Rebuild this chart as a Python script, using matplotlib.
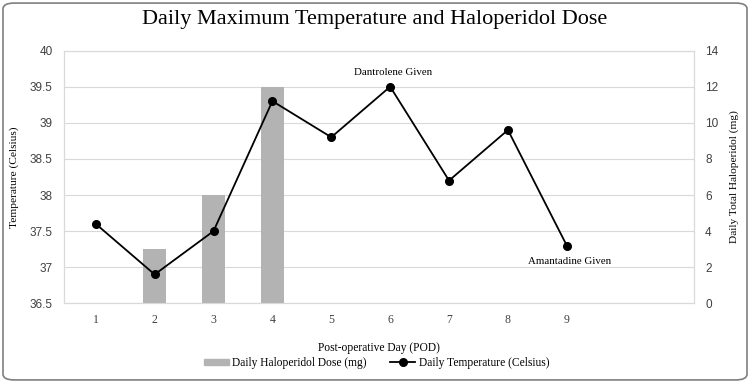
import matplotlib.pyplot as plt
from matplotlib.patches import FancyBboxPatch
from matplotlib.lines import Line2D
from matplotlib.patches import Patch

days = [1, 2, 3, 4, 5, 6, 7, 8, 9]
temps = [37.6, 36.9, 37.5, 39.3, 38.8, 39.5, 38.2, 38.9, 37.3]
dose_days = [2, 3, 4]
doses = [3, 6, 12]
left_ticks = [36.5, 37, 37.5, 38, 38.5, 39, 39.5, 40]
right_ticks = [0, 2, 4, 6, 8, 10, 12, 14]


def main():
    serif = ['Liberation Serif', 'DejaVu Serif']
    sans = ['Liberation Sans', 'DejaVu Sans']
    grid_c = '#d9d9d9'
    tick_c = '#404040'

    fig = plt.figure(figsize=(7.5, 3.83), dpi=100)
    fig.patches.append(FancyBboxPatch((0.004, 0.008), 0.992, 0.984,
                                      boxstyle='round,pad=0,rounding_size=0.015',
                                      transform=fig.transFigure, fill=False,
                                      edgecolor='#7f7f7f', linewidth=1.2))

    ax = fig.add_axes([0.0853, 0.208, 0.84, 0.66])
    ax2 = ax.twinx()
    ax.set_zorder(ax2.get_zorder() + 1)
    ax.patch.set_visible(False)

    # bars on the right axis
    ax2.bar(dose_days, doses, width=0.385, color='#b3b3b3', zorder=2)
    ax2.set_ylim(0, 14)
    ax2.set_yticks(right_ticks)
    ax2.set_yticklabels([str(t) for t in right_ticks], fontfamily=sans, fontsize=8.5, color=tick_c)
    ax2.set_ylabel('Daily Total Haloperidol (mg)', fontfamily=serif, fontsize=8.2, labelpad=8)

    ax.plot(days, temps, color='black', marker='o', markersize=5.5, linewidth=1.3, zorder=3)
    ax.set_ylim(36.5, 40)
    ax.set_xlim(0.46, 11.16)
    ax.set_yticks(left_ticks)
    ax.set_yticklabels([f'{t:g}' for t in left_ticks], fontfamily=sans, fontsize=8.5, color=tick_c)
    ax.set_xticks(days)
    ax.set_xticklabels([str(d) for d in days], fontfamily=serif, fontsize=8.5, color=tick_c)
    ax.set_ylabel('Temperature (Celsius)', fontfamily=serif, fontsize=8.2, labelpad=8)
    ax.set_xlabel('Post-operative Day (POD)', fontfamily=serif, fontsize=8.3, labelpad=11)

    ax2.grid(axis='y', color=grid_c, linewidth=0.8, zorder=0)
    ax2.set_axisbelow(True)
    for a in (ax, ax2):
        a.tick_params(length=0, pad=8)
        for s in a.spines.values():
            s.set_color(grid_c)
            s.set_linewidth(0.8)

    ax.annotate('Dantrolene Given', (days[5], temps[5]), xytext=(2, 7),
                textcoords='offset points', ha='center', va='bottom',
                fontfamily=serif, fontsize=7.8)
    ax.annotate('Amantadine Given', (days[8], temps[8]), xytext=(2, -8),
                textcoords='offset points', ha='center', va='top',
                fontfamily=serif, fontsize=7.8)

    fig.suptitle('Daily Maximum Temperature and Haloperidol Dose', y=0.975,
                 fontfamily=serif, fontsize=16)

    handles = [Patch(color='#b3b3b3'),
               Line2D([], [], color='black', marker='o', markersize=5.5, linewidth=1.3)]
    fig.legend(handles, ['Daily Haloperidol Dose (mg)', 'Daily Temperature (Celsius)'],
               loc='center', bbox_to_anchor=(0.502, 0.052), ncol=2, frameon=False,
               prop={'family': serif, 'size': 8.3}, handlelength=2.2, handleheight=0.5,
               columnspacing=2.0, handletextpad=0.3)

    plt.savefig('out.png', dpi=100)


if __name__ == '__main__':
    main()
